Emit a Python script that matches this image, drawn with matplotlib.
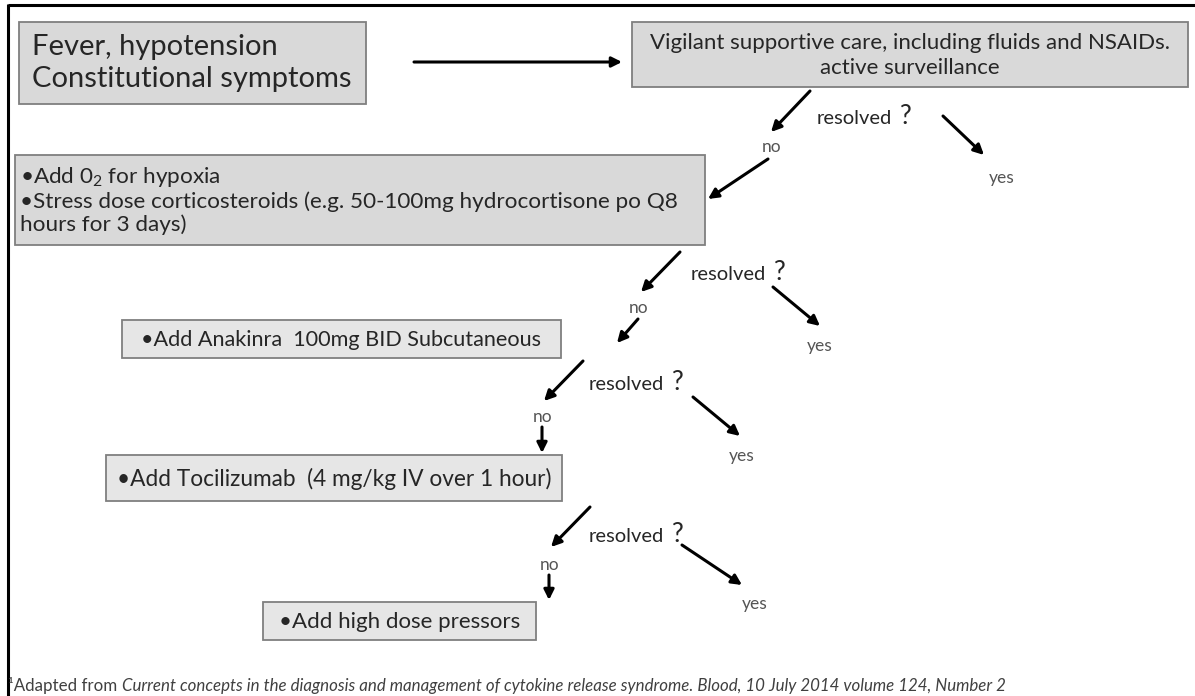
import matplotlib
matplotlib.use("Agg")
import matplotlib.pyplot as plt
from matplotlib.patches import Rectangle

plt.rcParams['font.family'] = ['Lato', 'DejaVu Sans']
plt.rcParams['mathtext.fontset'] = 'custom'
plt.rcParams['mathtext.rm'] = 'Lato'
plt.rcParams['mathtext.it'] = 'Lato:italic'

#-------------------------------------------- Data --------------------------------------------#

box_texts = [
    "Fever, hypotension\nConstitutional symptoms",
    "Vigilant supportive care, including fluids and NSAIDs.\nactive surveillance",
    "•Add 0$_2$ for hypoxia\n•Stress dose corticosteroids (e.g. 50-100mg hydrocortisone po Q8\nhours for 3 days)",
    "•Add Anakinra  100mg BID Subcutaneous",
    "•Add Tocilizumab  (4 mg/kg IV over 1 hour)",
    "•Add high dose pressors",
]
question = "resolved"
no_label = "no"
yes_label = "yes"
footnote_plain = "¹Adapted from "
footnote_italic = ("Current concepts in the diagnosis and management of cytokine release syndrome. "
                   "Blood, 10 July 2014 volume 124, Number 2")

#-------------------------------------------- Layout --------------------------------------------#

# box: x0, y0, x1, y1 (pixels, y down)
box_rects = [(19, 22, 366, 104), (632, 22, 1188, 87), (15, 155, 705, 245),
             (122, 320, 561, 358), (106, 455, 562, 501), (263, 602, 536, 640)]
box_fill = ['#d9d9d9', '#d9d9d9', '#d9d9d9', '#e6e6e6', '#e6e6e6', '#e6e6e6']
box_align = ['left', 'center', 'left', 'center', 'center', 'center']
box_size = [21, 16, 16.2, 15.6, 16.3, 16]
box_spacing = [1.28, 1.32, 1.15, 1, 1, 1]

# decision steps
q_pos = [(862, 118), (736, 275), (634, 385), (634, 537)]
no_arrow1 = [((810, 91), (771, 132)), ((680, 252), (641, 292)), ((583, 361), (544, 401)), ((590, 507), (551, 547))]
no_pos = [(772, 147), (639, 308), (543, 417), (550, 565)]
no_arrow2 = [((768, 159), (708, 199)), ((638, 319), (617, 343)), ((542, 427), (542, 453)), ((549, 575), (549, 600))]
yes_arrow = [((943, 116), (984, 155)), ((773, 287), (820, 326)), ((693, 397), (740, 436)), ((682, 545), (742, 585))]
yes_pos = [(1002, 178), (820, 346), (742, 456), (755, 604)]

fig = plt.figure(figsize=(11.95, 6.96), dpi=100)
ax = fig.add_axes([0, 0, 1, 1])
ax.set_xlim(0, 1195)
ax.set_ylim(696, 0)
ax.axis('off')

# frame (top and left)
ax.plot([8, 1195], [4.5, 4.5], color='black', lw=2.2, solid_capstyle='butt')
ax.plot([8.5, 8.5], [4, 696], color='black', lw=2.2, solid_capstyle='butt')

text_color = '#262626'
for txt, (x0, y0, x1, y1), fc, al, fs, ls in zip(box_texts, box_rects, box_fill, box_align, box_size, box_spacing):
    ax.add_patch(Rectangle((x0, y0), x1 - x0, y1 - y0, facecolor=fc, edgecolor='#7f7f7f', lw=1.3))
    if al == 'left':
        ax.text(x0 + 13 if fs > 18 else x0 + 5, (y0 + y1) / 2, txt, ha='left', va='center',
                fontsize=fs, color=text_color, linespacing=ls)
    else:
        ax.text((x0 + x1) / 2, (y0 + y1) / 2 + 1, txt, ha='center', va='center',
                fontsize=fs, color=text_color, linespacing=ls)

arrow_kw = dict(arrowstyle='-|>', color='black', lw=2.2, mutation_scale=15, shrinkA=0, shrinkB=0)

# main horizontal arrow
ax.annotate('', xy=(622, 62), xytext=(414, 62), arrowprops=arrow_kw)

for qp, a1, npos, a2, ya, ypos in zip(q_pos, no_arrow1, no_pos, no_arrow2, yes_arrow, yes_pos):
    ax.text(qp[0] - 8, qp[1], question, ha='center', va='center', fontsize=14.5, color=text_color)
    ax.text(qp[0] + 44, qp[1] - 2, "?", ha='center', va='center', fontsize=19, color=text_color)
    ax.annotate('', xy=a1[1], xytext=a1[0], arrowprops=arrow_kw)
    ax.text(npos[0], npos[1], no_label, ha='center', va='center', fontsize=12.5, color='#555555')
    ax.annotate('', xy=a2[1], xytext=a2[0], arrowprops=arrow_kw)
    ax.annotate('', xy=ya[1], xytext=ya[0], arrowprops=arrow_kw)
    ax.text(ypos[0], ypos[1], yes_label, ha='center', va='center', fontsize=12.5, color='#555555')

# footnote
t1 = ax.text(8, 686, footnote_plain, ha='left', va='center', fontsize=12.2, color='#404040')
fig.canvas.draw()
bb = t1.get_window_extent(renderer=fig.canvas.get_renderer())
x_end = ax.transData.inverted().transform((bb.x1, bb.y0))[0]
ax.text(x_end, 686, footnote_italic, ha='left', va='center', fontsize=12.2, color='#404040',
        style='italic')

fig.savefig('out.png', dpi=100)
